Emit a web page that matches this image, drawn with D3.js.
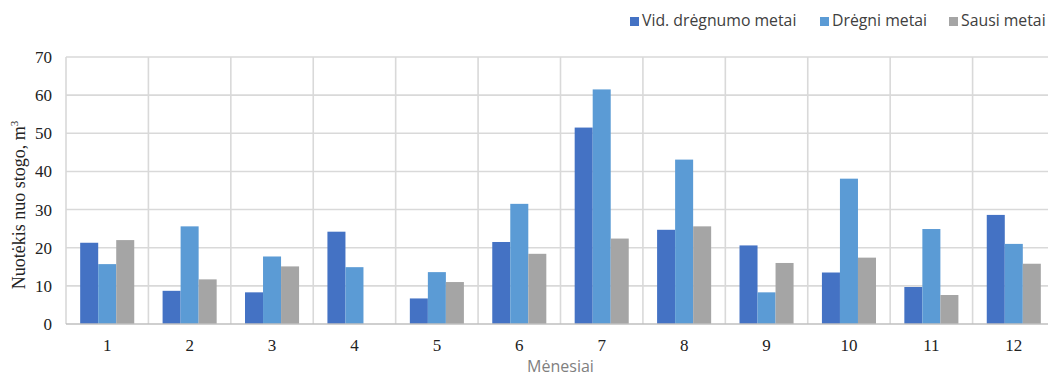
<!DOCTYPE html>
<html>
<head>
<meta charset="utf-8">
<script src="https://cdn.jsdelivr.net/npm/d3@7"></script>
<style>
  html, body { margin: 0; padding: 0; background: #fff; }
  svg { display: block; }
</style>
</head>
<body>
<svg id="chart" width="1048" height="378"></svg>
<script>
// Months and runoff series (m³)
const months = ["1", "2", "3", "4", "5", "6", "7", "8", "9", "10", "11", "12"];
const seriesNames = ["Vid. drėgnumo metai", "Drėgni metai", "Sausi metai"];
const averageYears = [21.3, 8.7, 8.3, 24.2, 6.7, 21.5, 51.5, 24.7, 20.6, 13.5, 9.7, 28.6];
const wetYears     = [15.7, 25.6, 17.7, 14.9, 13.6, 31.5, 61.5, 43.1, 8.3, 38.1, 24.9, 21.0];
const dryYears     = [22.0, 11.7, 15.1, 0, 11.0, 18.4, 22.4, 25.6, 16.0, 17.4, 7.6, 15.8];
const yTicks = [0, 10, 20, 30, 40, 50, 60, 70];

const colors = ["#4472C4", "#5B9BD5", "#A5A5A5"];
const seriesValues = [averageYears, wetYears, dryYears];

const svg = d3.select("#chart");
const margin = { left: 66, top: 57, right: 1055, bottom: 324 };

const x = d3.scaleBand().domain(months).range([margin.left, margin.right]).padding(0);
const xs = d3.scaleBand().domain(seriesNames)
  .range([x.bandwidth() * 0.172, x.bandwidth() * 0.828]).padding(0);
const y = d3.scaleLinear().domain([0, 70]).range([margin.bottom, margin.top]);

// horizontal gridlines
svg.append("g")
  .selectAll("line")
  .data(yTicks.filter(t => t > 0))
  .join("line")
  .attr("x1", margin.left).attr("x2", margin.right)
  .attr("y1", d => y(d)).attr("y2", d => y(d))
  .attr("stroke", "#D9D9D9").attr("stroke-width", 1.6);

// vertical gridlines at month boundaries
svg.append("g")
  .selectAll("line")
  .data(months.concat(["end"]))
  .join("line")
  .attr("x1", (d, i) => margin.left + i * x.step())
  .attr("x2", (d, i) => margin.left + i * x.step())
  .attr("y1", margin.top).attr("y2", margin.bottom)
  .attr("stroke", "#D9D9D9").attr("stroke-width", 1.6);

// bars
const groups = svg.append("g")
  .selectAll("g")
  .data(months)
  .join("g")
  .attr("transform", d => `translate(${x(d)},0)`);

groups.selectAll("rect")
  .data((m, i) => seriesNames.map((s, k) => ({ s, k, v: seriesValues[k][i] })))
  .join("rect")
  .attr("x", d => xs(d.s))
  .attr("width", xs.bandwidth())
  .attr("y", d => y(d.v))
  .attr("height", d => y(0) - y(d.v))
  .attr("fill", d => colors[d.k]);

// bottom axis line
svg.append("line")
  .attr("x1", margin.left).attr("x2", margin.right)
  .attr("y1", y(0)).attr("y2", y(0))
  .attr("stroke", "#BFBFBF").attr("stroke-width", 1.6);

// y axis labels
const yAxis = d3.axisLeft(y).tickValues(yTicks).tickSize(0).tickPadding(14);
const gy = svg.append("g").attr("transform", `translate(${margin.left},0)`).call(yAxis);
gy.select(".domain").remove();
gy.selectAll("text")
  .attr("font-family", "'Liberation Serif', 'Times New Roman', serif")
  .attr("font-size", 17).attr("fill", "#222");

// x axis labels
const xAxis = d3.axisBottom(x).tickSize(0).tickPadding(15);
const gx = svg.append("g").attr("transform", `translate(0,${margin.bottom})`).call(xAxis);
gx.select(".domain").remove();
gx.selectAll("text")
  .attr("font-family", "'Liberation Serif', 'Times New Roman', serif")
  .attr("font-size", 17).attr("fill", "#222");

// axis titles
const yTitle = svg.append("text")
  .attr("transform", "translate(25,205) rotate(-90)")
  .attr("text-anchor", "middle")
  .attr("font-family", "'Liberation Serif', 'Times New Roman', serif")
  .attr("font-size", 18).attr("fill", "#222");
yTitle.append("tspan").text("Nuotėkis nuo stogo, m");
yTitle.append("tspan").attr("font-size", 11).attr("dy", -7).text("3");

svg.append("text")
  .attr("x", (margin.left + margin.right) / 2)
  .attr("y", 372)
  .attr("text-anchor", "middle")
  .attr("font-family", "'Open Sans', 'Liberation Sans', sans-serif")
  .attr("font-size", 16).attr("fill", "#7F7F7F")
  .text("Mėnesiai");

// legend
const legendX = [630, 820, 949];
const legend = svg.append("g")
  .selectAll("g")
  .data(seriesNames)
  .join("g")
  .attr("transform", (d, i) => `translate(${legendX[i]},26)`);
legend.append("rect")
  .attr("x", 0).attr("y", -9).attr("width", 9).attr("height", 9)
  .attr("fill", (d, i) => colors[i]);
legend.append("text")
  .attr("x", 12).attr("y", 0)
  .attr("font-family", "'Open Sans', 'Liberation Sans', sans-serif")
  .attr("font-size", 15.8).attr("fill", "#404040")
  .text(d => d);
</script>
</body>
</html>
